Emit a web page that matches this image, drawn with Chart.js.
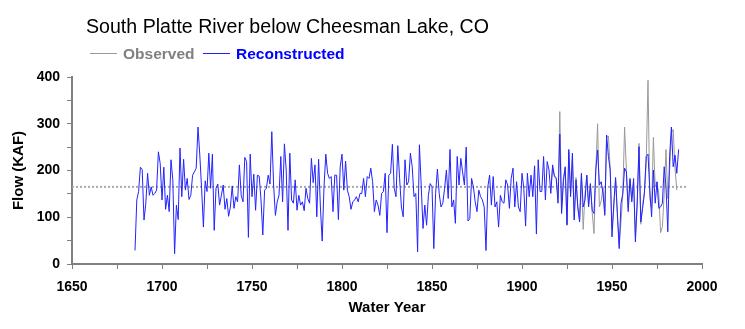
<!DOCTYPE html>
<html><head><meta charset="utf-8">
<script src="https://cdn.jsdelivr.net/npm/chart.js@4.4.1/dist/chart.umd.min.js"></script>
<style>html,body{margin:0;padding:0;background:#fff;}canvas{display:block}</style>
</head><body>
<canvas id="c" width="745" height="329"></canvas>
<script>
const chartTitle = "South Platte River below Cheesman Lake, CO";
const legendLabels = ["Observed", "Reconstructed"];
const xAxisTitle = "Water Year";
const yAxisTitle = "Flow (KAF)";

// Reconstructed flow (KAF), water years 1685..1987
const reconStartYear = 1685;
const reconstructed = [
  29,137,155,207,202,94,130,194,147,165,
  147,151,158,240,215,137,207,117,147,112,
  223,180,22,126,95,248,144,224,158,183,
  138,147,190,197,205,293,233,162,79,178,
  155,237,162,235,72,162,171,126,147,169,
  117,140,102,122,167,119,144,133,212,147,
  133,228,219,57,235,144,192,115,190,188,
  137,62,158,162,190,171,283,169,104,133,
  147,230,133,257,201,72,237,137,130,180,
  115,147,126,133,114,162,140,130,226,174,
  212,101,224,122,49,165,235,194,183,187,
  112,190,190,95,208,235,158,220,158,144,
  117,133,137,144,133,151,151,183,144,187,
  183,205,176,112,137,126,104,151,155,194,
  67,190,194,256,162,144,253,183,122,101,
  223,169,176,237,208,144,151,26,255,169,
  76,126,83,147,172,165,33,151,203,151,
  122,130,162,201,140,245,122,137,87,230,
  169,226,197,169,250,92,97,183,165,133,
  112,158,144,137,122,29,165,190,126,187,
  122,133,79,147,133,130,180,169,119,183,
  205,122,176,122,112,194,162,81,194,144,
  190,144,210,64,223,155,155,230,137,219,
  201,151,212,187,183,130,278,108,176,208,
  83,245,144,237,94,180,122,90,194,122,
  137,190,122,172,115,108,201,244,169,176,
  151,104,276,230,201,58,130,185,108,33,
  130,151,205,197,112,183,133,183,47,133,
  251,90,119,151,230,235,158,101,201,130,
  176,119,122,130,208,165,69,230,293,208,
  233,194,245
];

// Observed flow (KAF), water years 1916..1986
const observedStartYear = 1916;
const observed = [
  160,205,190,185,140,326,120,185,205,85,
  240,150,225,100,185,120,94,190,74,150,
  190,125,170,110,65,200,300,122,135,165,
  110,270,274,205,75,120,180,100,40,90,
  150,293,200,120,180,140,175,60,125,258,
  85,125,155,215,393,140,120,271,165,175,
  150,67,80,150,245,140,200,280,288,205,
  158
];

const meanFlow = 165;
const meanSpanYears = [1650, 1992];
const xTickValues = [1650,1675,1700,1725,1750,1775,1800,1825,1850,1875,1900,1925,1950,1975,2000];
const xLabelStep = 50;
const yLabelStep = 100;

const toPoints = (start, arr) => arr.map((v, i) => ({x: start + i, y: v}));

const FONT = '"Liberation Sans", Arial, sans-serif';
Chart.defaults.font.family = FONT;

const headerPlugin = {
  id: 'header',
  afterDraw(chart) {
    const ctx = chart.ctx;
    ctx.save();
    ctx.textBaseline = 'alphabetic';
    ctx.fillStyle = '#000';
    ctx.font = '19.6px ' + FONT;
    ctx.fillText(chartTitle, 86, 33);
    const items = [
      {text: legendLabels[0], color: '#808080', line: '#999999', x0: 90},
      {text: legendLabels[1], color: '#0000ff', line: '#2222ff', x0: 203}
    ];
    ctx.font = 'bold 15.5px ' + FONT;
    items.forEach(it => {
      ctx.strokeStyle = it.line;
      ctx.lineWidth = 1;
      ctx.beginPath();
      ctx.moveTo(it.x0, 53.5);
      ctx.lineTo(it.x0 + 27, 53.5);
      ctx.stroke();
      ctx.fillStyle = it.color;
      ctx.fillText(it.text, it.x0 + 33, 59);
    });
    ctx.restore();
  }
};

new Chart(document.getElementById('c'), {
  type: 'scatter',
  data: {
    datasets: [
      {label: legendLabels[1], data: toPoints(reconStartYear, reconstructed), showLine: true,
       borderColor: '#2222ff', borderWidth: 1, pointRadius: 0, tension: 0, order: 0},
      {label: legendLabels[0], data: toPoints(observedStartYear, observed), showLine: true,
       borderColor: '#999999', borderWidth: 1, pointRadius: 0, tension: 0, order: 1},
      {label: 'Mean', data: meanSpanYears.map(x => ({x: x, y: meanFlow})), showLine: true,
       borderColor: '#a8a8a8', borderWidth: 2, borderDash: [2, 2], pointRadius: 0, order: 2}
    ]
  },
  options: {
    responsive: false,
    animation: false,
    layout: {padding: {left: 0, right: 43, top: 77, bottom: 0}},
    plugins: {legend: {display: false}, tooltip: {enabled: false}, title: {display: false}},
    scales: {
      x: {
        type: 'linear', min: 1650, max: 2000,
        afterBuildTicks: s => { s.ticks = xTickValues.map(v => ({value: v})); },
        afterFit: s => { s.height = 65; },
        ticks: {
          callback: v => (v % xLabelStep === 0 ? String(v) : ''),
          autoSkip: false, maxRotation: 0, color: '#000', padding: 10,
          font: {size: 14, weight: 'bold'}
        },
        grid: {drawOnChartArea: false, drawTicks: true, tickLength: 5, color: '#808080', lineWidth: 1},
        border: {display: true, color: '#808080', width: 2},
        title: {display: true, text: xAxisTitle, color: '#000', font: {size: 15, weight: 'bold'}, padding: {top: 0, bottom: 12}}
      },
      y: {
        min: 0, max: 400,
        afterFit: s => { s.width = 72; },
        ticks: {
          stepSize: 50,
          callback: v => (v % yLabelStep === 0 ? String(v) : ''),
          color: '#000', padding: 7,
          font: {size: 14, weight: 'bold'}
        },
        grid: {drawOnChartArea: false, drawTicks: true, tickLength: 5, color: '#808080', lineWidth: 1},
        border: {display: true, color: '#808080', width: 2},
        title: {display: true, text: yAxisTitle, color: '#000', font: {size: 15, weight: 'bold'}, padding: {top: 10, bottom: 0}}
      }
    }
  },
  plugins: [headerPlugin]
});
</script>
</body></html>
